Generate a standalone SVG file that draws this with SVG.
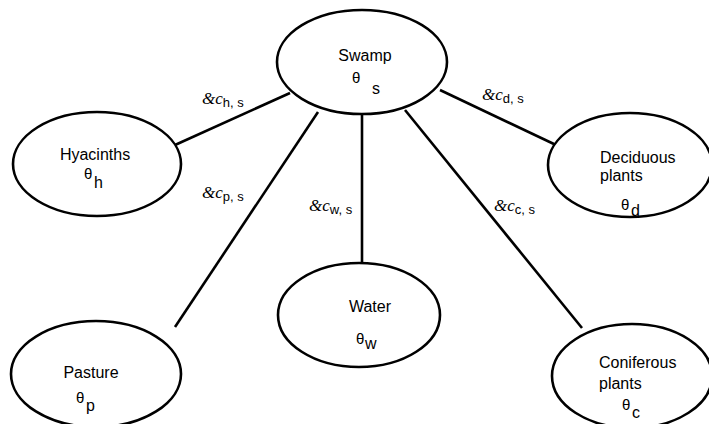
<svg xmlns="http://www.w3.org/2000/svg" width="709" height="424" viewBox="0 0 709 424">
<style>
.n{fill:#fff;stroke:#000;stroke-width:2.6}
.e{stroke:#000;stroke-width:2.6;fill:none}
text{font-family:"Liberation Sans",Arial,sans-serif;fill:#000}
.t{font-size:16px}
.th{font-size:15px}
.sb{font-size:16px}
.lb{font-size:13px}
.amp{font-family:"Liberation Serif",serif;font-style:italic;font-size:17px}
</style>
<rect width="709" height="424" fill="#fff"/>
<g id="connectors">
<line class="e" x1="290" y1="93" x2="175" y2="145"/>
<line class="e" x1="318" y1="112" x2="175" y2="327"/>
<line class="e" x1="362" y1="114" x2="362" y2="264"/>
<line class="e" x1="405" y1="110" x2="582" y2="328"/>
<line class="e" x1="440" y1="90" x2="556" y2="145"/>
<text class="lb" x="202" y="104"><tspan class="amp">&amp;c</tspan><tspan dy="3">h, s</tspan></text>
<text class="lb" x="202" y="198"><tspan class="amp">&amp;c</tspan><tspan dy="3">p, s</tspan></text>
<text class="lb" x="309" y="211"><tspan class="amp">&amp;c</tspan><tspan dy="3">w, s</tspan></text>
<text class="lb" x="494" y="211"><tspan class="amp">&amp;c</tspan><tspan dy="3">c, s</tspan></text>
<text class="lb" x="482" y="100"><tspan class="amp">&amp;c</tspan><tspan dy="3">d, s</tspan></text>
</g>
<g id="swamp">
<ellipse class="n" cx="362" cy="62" rx="85" ry="52"/>
<text class="t" x="365" y="61" text-anchor="middle">Swamp</text>
<text class="th" x="352" y="83">θ</text>
<text class="sb" x="372" y="94">s</text>
</g>
<g id="hyacinths">
<ellipse class="n" cx="97" cy="164" rx="84" ry="52"/>
<text class="t" x="95" y="160" text-anchor="middle">Hyacinths</text>
<text class="th" x="84" y="179">θ</text>
<text class="sb" x="94" y="188">h</text>
</g>
<g id="deciduous">
<ellipse class="n" cx="630" cy="165" rx="82" ry="52"/>
<text class="t" x="600" y="163">Deciduous</text>
<text class="t" x="600" y="181">plants</text>
<text class="th" x="621" y="210">θ</text>
<text class="sb" x="631" y="216">d</text>
</g>
<g id="water">
<ellipse class="n" cx="359" cy="315" rx="81" ry="52"/>
<text class="t" x="370" y="312" text-anchor="middle">Water</text>
<text class="th" x="356" y="344">θ</text>
<text class="sb" x="365" y="349">w</text>
</g>
<g id="pasture">
<ellipse class="n" cx="96" cy="374" rx="85" ry="53"/>
<text class="t" x="91" y="378" text-anchor="middle">Pasture</text>
<text class="th" x="76" y="403">θ</text>
<text class="sb" x="86" y="411">p</text>
</g>
<g id="coniferous">
<ellipse class="n" cx="632" cy="376" rx="80" ry="52"/>
<text class="t" x="599" y="368">Coniferous</text>
<text class="t" x="599" y="389">plants</text>
<text class="th" x="622" y="410">θ</text>
<text class="sb" x="632" y="418">c</text>
</g>
</svg>
